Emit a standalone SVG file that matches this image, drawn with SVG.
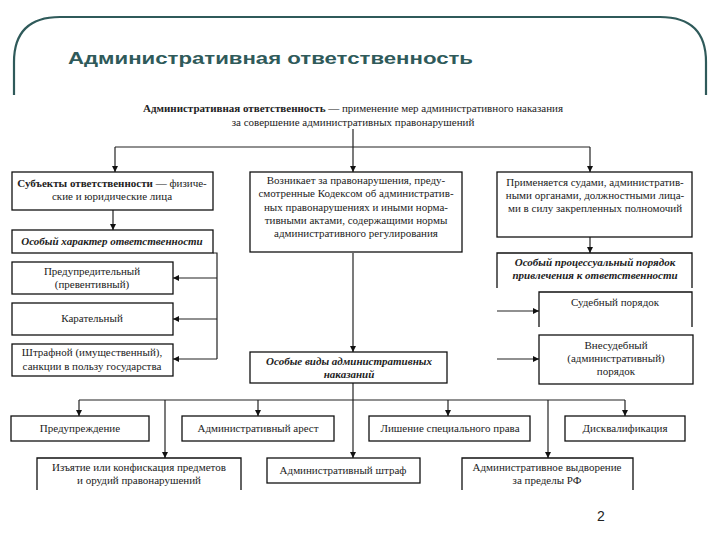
<svg xmlns="http://www.w3.org/2000/svg" width="720" height="540" viewBox="0 0 720 540">
<defs>
<marker id="ah" viewBox="0 0 8 8" refX="8" refY="4" markerWidth="6" markerHeight="6" orient="auto" markerUnits="userSpaceOnUse">
<path d="M0,0 L8,4 L0,8 z" fill="#111"/>
</marker>
<style>
.bx{fill:#fff;stroke:#111;stroke-width:1.3}
.t{font-family:'Liberation Serif','DejaVu Serif',serif;font-size:11px;fill:#222;text-anchor:middle}
.b{font-weight:bold}
.bi{font-weight:bold;font-style:italic}
.c{fill:none;stroke:#222;stroke-width:1.2}
.ca{fill:none;stroke:#222;stroke-width:1.2;marker-end:url(#ah)}
</style>
</defs>
<rect width="720" height="540" fill="#fff"/>
<path d="M14,95 L14,62 C14,32 30,17 60,17 L660,17 C690,17 706,32 706,62 L706,95" fill="none" stroke="#2f5a5a" stroke-width="2.2"/>
<text x="68" y="64" font-family="'Liberation Sans',Arial,sans-serif" font-weight="bold" font-size="17" fill="#2f5a5a" textLength="405" lengthAdjust="spacingAndGlyphs">Административная ответственность</text>

<g id="connectors">
<line class="ca" x1="353" y1="129" x2="353" y2="172"/>
<line class="c" x1="115" y1="147" x2="590" y2="147"/>
<line class="ca" x1="115" y1="147" x2="115" y2="172"/>
<line class="ca" x1="590" y1="147" x2="590" y2="172"/>
<line class="ca" x1="113" y1="210" x2="113" y2="230"/>
<polyline class="c" points="213,253 217,253 217,359"/>
<line class="ca" x1="217" y1="278" x2="173" y2="278"/>
<line class="ca" x1="217" y1="319" x2="173" y2="319"/>
<line class="ca" x1="217" y1="359" x2="173" y2="359"/>
<line class="ca" x1="590" y1="237" x2="590" y2="253"/>
<line class="ca" x1="497" y1="311" x2="539" y2="311"/>
<line class="ca" x1="497" y1="359" x2="539" y2="359"/>
<line class="ca" x1="353" y1="253" x2="353" y2="352"/>
<line class="c" x1="79" y1="400" x2="625" y2="400"/>
<line class="ca" x1="79" y1="400" x2="79" y2="416"/>
<line class="ca" x1="258" y1="400" x2="258" y2="416"/>
<line class="ca" x1="448" y1="400" x2="448" y2="416"/>
<line class="ca" x1="625" y1="400" x2="625" y2="416"/>
<line class="ca" x1="165" y1="400" x2="165" y2="458"/>
<line class="ca" x1="353" y1="383" x2="353" y2="458"/>
<line class="ca" x1="548" y1="400" x2="548" y2="458"/>
</g>

<g id="definition">
<text class="t" x="353" y="112"><tspan class="b">Административная ответственность</tspan> — применение мер административного наказания</text>
<text class="t" x="353" y="126">за совершение административных правонарушений</text>
</g>

<g id="subjects">
<rect class="bx" x="12" y="172" width="201" height="38"/>
<text class="t" x="112" y="187"><tspan class="b">Субъекты ответственности</tspan> — физиче-</text>
<text class="t" x="112" y="200">ские и юридические лица</text>
</g>
<g id="special-character">
<rect class="bx" x="12" y="230" width="201" height="23"/>
<text class="t bi" x="112" y="245">Особый характер ответственности</text>
</g>
<g id="preventive">
<rect class="bx" x="12" y="262" width="161" height="32"/>
<text class="t" x="92" y="275">Предупредительный</text>
<text class="t" x="92" y="288">(превентивный)</text>
</g>
<g id="punitive">
<rect class="bx" x="12" y="303" width="161" height="32"/>
<text class="t" x="92" y="322">Карательный</text>
</g>
<g id="penalty">
<rect class="bx" x="12" y="344" width="161" height="32"/>
<text class="t" x="92" y="356">Штрафной (имущественный),</text>
<text class="t" x="92" y="370">санкции в пользу государства</text>
</g>

<g id="arises">
<rect class="bx" x="250" y="172" width="212" height="80"/>
<text class="t" x="356" y="184">Возникает за правонарушения, преду-</text>
<text class="t" x="356" y="197">смотренные Кодексом об административ-</text>
<text class="t" x="356" y="211">ных правонарушениях и иными норма-</text>
<text class="t" x="356" y="224">тивными актами, содержащими нормы</text>
<text class="t" x="356" y="237">административного регулирования</text>
</g>
<g id="special-types">
<rect class="bx" x="250" y="352" width="197" height="31"/>
<text class="t bi" x="349" y="365">Особые виды административных</text>
<text class="t bi" x="349" y="378">наказаний</text>
</g>

<g id="applied">
<rect class="bx" x="497" y="172" width="195" height="65"/>
<text class="t" x="595" y="186">Применяется судами, административ-</text>
<text class="t" x="595" y="199">ными органами, должностными лица-</text>
<text class="t" x="595" y="212">ми в силу закрепленных полномочий</text>
</g>
<g id="procedure">
<path class="bx" d="M497,288 L497,253 L692,253 L692,288"/>
<text class="t bi" x="595" y="266">Особый процессуальный порядок</text>
<text class="t bi" x="595" y="279">привлечения к ответственности</text>
</g>
<g id="judicial">
<path class="bx" d="M539,327 L539,292 L692,292 L692,327"/>
<text class="t" x="615" y="306">Судебный порядок</text>
</g>
<g id="extrajudicial">
<rect class="bx" x="539" y="335" width="154" height="49"/>
<text class="t" x="616" y="349">Внесудебный</text>
<text class="t" x="616" y="362">(административный)</text>
<text class="t" x="616" y="375">порядок</text>
</g>

<g id="warning">
<rect class="bx" x="11" y="416" width="138" height="25"/>
<text class="t" x="80" y="432">Предупреждение</text>
</g>
<g id="arrest">
<rect class="bx" x="182" y="416" width="152" height="25"/>
<text class="t" x="258" y="432">Административный арест</text>
</g>
<g id="deprivation">
<rect class="bx" x="369" y="416" width="161" height="25"/>
<text class="t" x="450" y="432">Лишение специального права</text>
</g>
<g id="disqualification">
<rect class="bx" x="565" y="416" width="120" height="25"/>
<text class="t" x="625" y="432">Дисквалификация</text>
</g>
<g id="confiscation">
<path class="bx" d="M37,490 L37,458 L241,458 L241,490"/>
<text class="t" x="139" y="471">Изъятие или конфискация предметов</text>
<text class="t" x="139" y="484">и орудий правонарушений</text>
</g>
<g id="fine">
<rect class="bx" x="267" y="458" width="153" height="25"/>
<text class="t" x="343" y="474">Административный штраф</text>
</g>
<g id="expulsion">
<path class="bx" d="M462,490 L462,458 L633,458 L633,490"/>
<text class="t" x="547" y="471">Административное выдворение</text>
<text class="t" x="547" y="484">за пределы РФ</text>
</g>

<text x="601" y="521" font-family="'Liberation Sans',Arial,sans-serif" font-size="14" fill="#222" text-anchor="middle">2</text>
</svg>
